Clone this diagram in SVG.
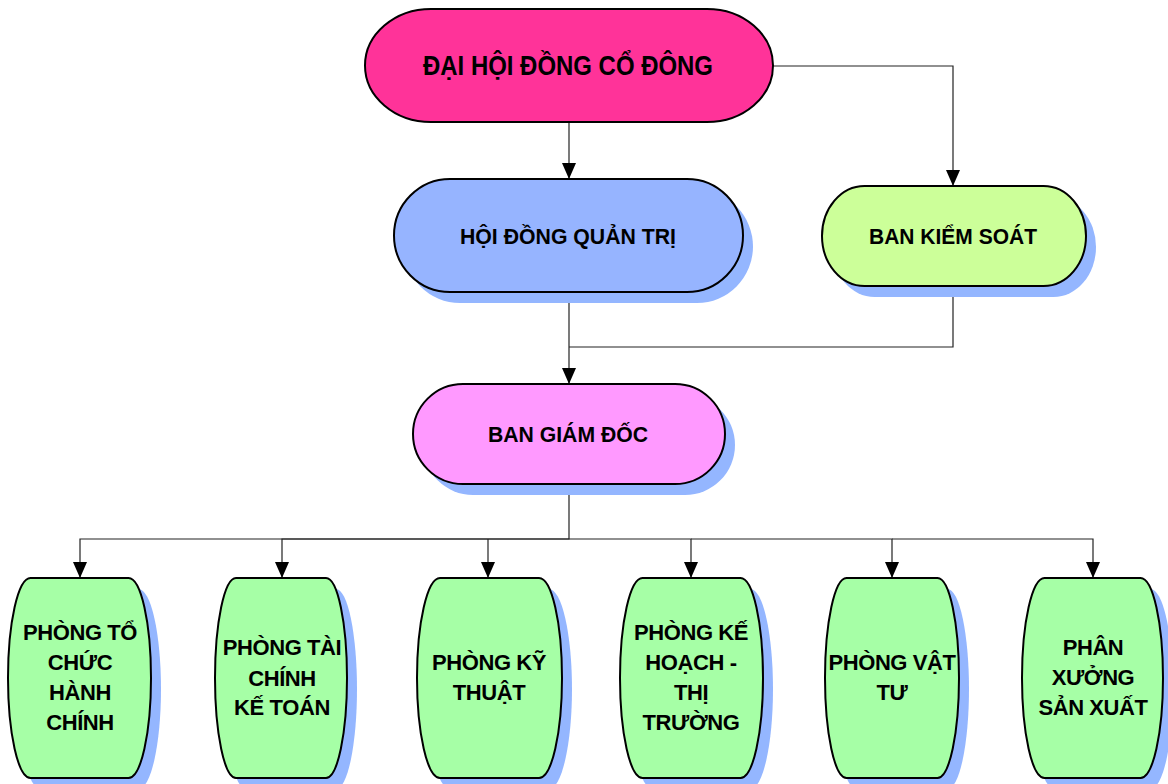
<svg xmlns="http://www.w3.org/2000/svg" width="1168" height="784" viewBox="0 0 1168 784">
<style>
.sh{fill:#94b6ff;stroke:none}
.nd{stroke:#000;stroke-width:2}
.t{font-family:"Liberation Sans",Arial,sans-serif;font-weight:bold;font-size:22px;fill:#000;text-anchor:middle}
.tb{letter-spacing:-0.4px}
.c{fill:none;stroke:#222;stroke-width:1.2}
.g{fill:#a6ffa6}
</style>
<defs>
<marker id="ah" markerUnits="userSpaceOnUse" markerWidth="16" markerHeight="14" refX="16" refY="7" orient="auto">
<path d="M0,0 L16,7 L0,14 z" fill="#000"/>
</marker>
</defs>
<rect width="1168" height="784" fill="#fff"/>
<g id="connectors">
<path class="c" d="M569,122 V179" marker-end="url(#ah)"/>
<path class="c" d="M773,66 H953 V186" marker-end="url(#ah)"/>
<path class="c" d="M569,292 V384" marker-end="url(#ah)"/>
<path class="c" d="M953,286 V347 H569"/>
<path class="c" d="M569,484 V539 H80 V578" marker-end="url(#ah)"/>
<path class="c" d="M569,539 H282 V578" marker-end="url(#ah)"/>
<path class="c" d="M488,539 V578" marker-end="url(#ah)"/>
<path class="c" d="M569,539 H691 V578" marker-end="url(#ah)"/>
<path class="c" d="M691,539 H892 V578" marker-end="url(#ah)"/>
<path class="c" d="M892,539 H1093 V578" marker-end="url(#ah)"/>
</g>
<g id="dai-hoi-dong-co-dong">
<rect class="nd" x="365" y="9" width="408" height="113" rx="66" ry="56.5" fill="#ff3399"/>
<text class="t" x="568" y="75" font-size="27" style="font-size:27px" textLength="290" lengthAdjust="spacingAndGlyphs">ĐẠI HỘI ĐỒNG CỔ ĐÔNG</text>
</g>
<g id="hoi-dong-quan-tri">
<rect class="sh" x="404" y="190" width="349" height="113" rx="56" ry="56.5"/>
<rect class="nd" x="394" y="179" width="349" height="113" rx="56" ry="56.5" fill="#96b4ff"/>
<text class="t" x="568" y="244" textLength="216" lengthAdjust="spacingAndGlyphs">HỘI ĐỒNG QUẢN TRỊ</text>
</g>
<g id="ban-kiem-soat">
<rect class="sh" x="832" y="197" width="264" height="100" rx="42.5" ry="50"/>
<rect class="nd" x="822" y="186" width="264" height="100" rx="42.5" ry="50" fill="#ccff99"/>
<text class="t" x="953" y="244" textLength="168" lengthAdjust="spacingAndGlyphs">BAN KIỂM SOÁT</text>
</g>
<g id="ban-giam-doc">
<rect class="sh" x="423" y="395" width="312" height="100" rx="50" ry="50"/>
<rect class="nd" x="413" y="384" width="312" height="100" rx="50" ry="50" fill="#ff99ff"/>
<text class="t" x="568" y="442" textLength="160" lengthAdjust="spacingAndGlyphs">BAN GIÁM ĐỐC</text>
</g>
<g id="phong-to-chuc-hanh-chinh">
<rect class="sh" x="18" y="589" width="143" height="200" rx="22.5" ry="100"/>
<rect class="nd g" x="8" y="578" width="143" height="200" rx="22.5" ry="100"/>
<text class="t tb" x="80" y="640">PHÒNG TỔ</text>
<text class="t tb" x="80" y="670">CHỨC</text>
<text class="t tb" x="80" y="700">HÀNH</text>
<text class="t tb" x="80" y="730">CHÍNH</text>
</g>
<g id="phong-tai-chinh-ke-toan">
<rect class="sh" x="225" y="589" width="132" height="200" rx="21" ry="100"/>
<rect class="nd g" x="215" y="578" width="132" height="200" rx="21" ry="100"/>
<text class="t tb" x="282" y="655">PHÒNG TÀI</text>
<text class="t tb" x="282" y="686">CHÍNH</text>
<text class="t tb" x="282" y="715">KẾ TOÁN</text>
</g>
<g id="phong-ky-thuat">
<rect class="sh" x="427" y="589" width="145" height="200" rx="23" ry="100"/>
<rect class="nd g" x="417" y="578" width="145" height="200" rx="23" ry="100"/>
<text class="t tb" x="489" y="670">PHÒNG KỸ</text>
<text class="t tb" x="489" y="700">THUẬT</text>
</g>
<g id="phong-ke-hoach-thi-truong">
<rect class="sh" x="630" y="589" width="143" height="200" rx="22.5" ry="100"/>
<rect class="nd g" x="620" y="578" width="143" height="200" rx="22.5" ry="100"/>
<text class="t tb" x="691" y="640">PHÒNG KẾ</text>
<text class="t tb" x="691" y="670">HOẠCH -</text>
<text class="t tb" x="691" y="700">THỊ</text>
<text class="t tb" x="691" y="730">TRƯỜNG</text>
</g>
<g id="phong-vat-tu">
<rect class="sh" x="835" y="589" width="134" height="200" rx="21.5" ry="100"/>
<rect class="nd g" x="825" y="578" width="134" height="200" rx="21.5" ry="100"/>
<text class="t tb" x="892" y="670">PHÒNG VẬT</text>
<text class="t tb" x="892" y="700">TƯ</text>
</g>
<g id="phan-xuong-san-xuat">
<rect class="sh" x="1032" y="589" width="141" height="200" rx="22.5" ry="100"/>
<rect class="nd g" x="1022" y="578" width="141" height="200" rx="22.5" ry="100"/>
<text class="t tb" x="1093" y="655">PHÂN</text>
<text class="t tb" x="1093" y="685">XƯỞNG</text>
<text class="t tb" x="1093" y="715">SẢN XUẤT</text>
</g>
</svg>
